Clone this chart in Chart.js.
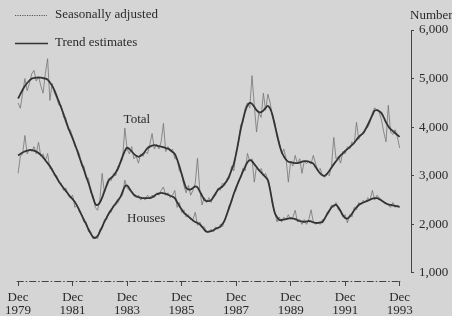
<!DOCTYPE html>
<html>
<head>
<meta charset="utf-8">
<script src="https://cdn.jsdelivr.net/npm/chart.js@4/dist/chart.umd.min.js"></script>
<style>
  html, body { margin: 0; padding: 0; background: #d5d5d5; }
  canvas { display: block; }
</style>
</head>
<body>
<canvas id="c" width="452" height="316"></canvas>
<script>
// Monthly data, Dec 1979 .. Dec 1993 (169 months)
const totalTrend = [
  4590,4680,4770,4850,4910,4960,5000,5010,5020,5020,5020,5010,
  5000,4980,4920,4850,4760,4640,4520,4400,4270,4130,4000,3880,
  3770,3650,3520,3380,3250,3120,2980,2850,2700,2550,2420,2400,
  2450,2550,2680,2800,2910,2960,3000,3070,3150,3270,3400,3510,
  3580,3550,3500,3450,3410,3390,3410,3450,3510,3570,3600,3620,
  3630,3620,3610,3600,3590,3570,3560,3530,3490,3450,3340,3200,
  3040,2880,2750,2720,2720,2750,2780,2760,2680,2590,2510,2480,
  2480,2500,2560,2640,2710,2750,2780,2840,2900,3000,3120,3250,
  3450,3700,3950,4150,4330,4450,4500,4480,4420,4350,4310,4310,
  4340,4400,4440,4380,4250,4050,3850,3650,3500,3400,3330,3290,
  3280,3270,3260,3260,3270,3290,3300,3300,3290,3270,3250,3180,
  3110,3050,3010,3000,3040,3100,3170,3240,3300,3360,3420,3460,
  3510,3550,3590,3630,3680,3740,3800,3840,3880,3960,4050,4150,
  4250,4340,4350,4330,4290,4200,4100,4020,3960,3920,3880,3840,
  3800
];
const totalSA = [
  4500,4390,4700,5000,4750,4900,5100,5170,4950,5050,4850,4700,
  5100,5410,4550,4900,4700,4600,4450,4450,4200,4200,3950,3950,
  3800,3600,3550,3450,3200,3200,2950,2950,2650,2600,2350,2290,
  2500,3050,2650,2850,2950,2900,3050,3000,3200,3250,3350,3980,
  3550,3450,3600,3350,3400,3260,3450,3400,3500,3450,3650,3870,
  3550,3650,3550,3700,4080,3500,3600,3500,3550,3350,3350,3100,
  3050,2800,2650,2800,2600,2700,2850,3360,2700,2400,2550,2450,
  2550,2450,2600,2600,2750,2700,2850,2800,2950,2950,3200,3100,
  3500,3650,4050,4100,4400,4500,4400,5060,4450,3900,4300,4200,
  4700,4350,4680,4500,4200,4100,3800,3700,3450,3550,3350,2870,
  3300,3200,3420,3250,3350,3050,3300,3250,3300,3250,3420,3250,
  3100,3150,3000,2970,3050,3000,3200,3790,3350,3400,3260,3500,
  3450,3600,3550,3700,3650,4100,3750,3850,3900,3950,4000,4100,
  4300,4400,4350,4300,4150,3900,3700,4450,3900,3850,3950,3800,
  3570
];
const housesTrend = [
  3420,3450,3480,3500,3520,3530,3530,3520,3500,3470,3430,3380,
  3320,3260,3200,3120,3040,2960,2880,2810,2750,2690,2630,2570,
  2520,2460,2380,2290,2190,2090,2000,1900,1810,1740,1720,1760,
  1850,1950,2050,2140,2230,2300,2370,2430,2500,2560,2670,2780,
  2800,2740,2670,2610,2580,2560,2550,2540,2540,2540,2540,2560,
  2590,2620,2640,2650,2640,2630,2610,2590,2570,2540,2460,2380,
  2310,2240,2200,2160,2120,2080,2050,2030,2000,1950,1890,1850,
  1850,1860,1880,1910,1930,1950,2010,2090,2220,2350,2490,2630,
  2760,2870,2980,3090,3190,3280,3320,3300,3240,3180,3120,3070,
  3020,2970,2910,2700,2450,2240,2150,2090,2090,2100,2110,2120,
  2130,2120,2110,2090,2070,2060,2050,2060,2070,2060,2040,2030,
  2030,2040,2050,2120,2200,2280,2350,2390,2400,2350,2270,2190,
  2130,2120,2160,2220,2290,2350,2400,2430,2450,2470,2490,2510,
  2530,2540,2540,2520,2490,2460,2430,2410,2400,2390,2380,2370,
  2360
];
const housesSA = [
  3050,3400,3450,3830,3450,3550,3500,3600,3450,3690,3400,3450,
  3300,3460,3150,3150,3000,3000,2850,2850,2700,2750,2600,2540,
  2600,2350,2400,2250,2200,2050,2050,1850,1850,1700,1750,1700,
  1900,1900,2100,2100,2250,2250,2400,2400,2450,2550,2600,2910,
  2750,2700,2650,2600,2550,2600,2500,2550,2500,2600,2550,2600,
  2550,2650,2600,2700,2770,2600,2650,2550,2600,2700,2350,2450,
  2250,2300,2150,2200,2100,2100,2250,1980,2050,1950,1950,1850,
  1830,1900,1850,1950,1900,2000,1950,2100,2200,2400,2450,2650,
  2700,2900,2950,3150,3100,3460,3300,3350,2870,3200,3100,3150,
  3000,3050,2900,2750,2400,2250,2050,2150,2050,2150,2100,2200,
  2100,2150,2290,2050,2100,2000,2100,2000,2100,2300,2050,2000,
  2050,2000,2100,2100,2250,2250,2400,2350,2450,2300,2300,2150,
  2200,2030,2200,2150,2350,2300,2450,2400,2500,2450,2550,2500,
  2700,2500,2600,2550,2500,2450,2450,2400,2350,2450,2350,2400,
  2350
];
const xTickMonths = [0, 24, 48, 72, 96, 120, 144, 168];
const xTickYears  = ['1979','1981','1983','1985','1987','1989','1991','1993'];
const xTickMonthName = 'Dec';
const yTicks = [1000, 2000, 3000, 4000, 5000, 6000];

const ink = '#2a2a2a';
const serif = '"Liberation Serif", "DejaVu Serif", serif';
const pts = arr => arr.map((v, i) => ({ x: i, y: v }));

const deco = {
  id: 'deco',
  afterDraw(chart) {
    const { ctx, chartArea: a, scales: { x, y } } = chart;
    ctx.save();
    ctx.strokeStyle = '#444';
    ctx.lineWidth = 1;
    // right axis line (1,000 .. 6,000)
    ctx.beginPath();
    ctx.moveTo(Math.round(a.right) + 0.5, y.getPixelForValue(yTicks[0]));
    ctx.lineTo(Math.round(a.right) + 0.5, y.getPixelForValue(yTicks[yTicks.length - 1]));
    ctx.stroke();
    // dashed bottom axis
    ctx.setLineDash([7, 2, 1.5, 2]);
    ctx.beginPath();
    ctx.moveTo(x.getPixelForValue(-0.6), Math.round(a.bottom) + 0.5);
    ctx.lineTo(x.getPixelForValue(168.6), Math.round(a.bottom) + 0.5);
    ctx.stroke();
    ctx.setLineDash([]);

    ctx.fillStyle = ink;
    ctx.font = '13px ' + serif;
    ctx.textBaseline = 'middle';
    ctx.textAlign = 'left';
    ctx.fillText('Number', 410, 16);

    // legend
    ctx.strokeStyle = '#555';
    ctx.setLineDash([1.2, 1.2]);
    ctx.lineWidth = 1;
    ctx.beginPath(); ctx.moveTo(15, 15.5); ctx.lineTo(47, 15.5); ctx.stroke();
    ctx.setLineDash([]);
    ctx.strokeStyle = '#333';
    ctx.lineWidth = 1.5;
    ctx.beginPath(); ctx.moveTo(15, 43.5); ctx.lineTo(48, 43.5); ctx.stroke();
    ctx.fillText('Seasonally adjusted', 55, 15);
    ctx.fillText('Trend estimates', 55, 43);

    // series labels
    ctx.textAlign = 'center';
    ctx.fillText('Total', x.getPixelForValue(52.3), y.getPixelForValue(4150));
    ctx.fillText('Houses', x.getPixelForValue(56.4), y.getPixelForValue(2125));
    ctx.restore();
  }
};

new Chart(document.getElementById('c'), {
  type: 'line',
  data: {
    datasets: [
      { label: 'Total trend', data: pts(totalTrend), borderColor: '#333', borderWidth: 1.8, pointRadius: 0, tension: 0.3, order: 1 },
      { label: 'Houses trend', data: pts(housesTrend), borderColor: '#333', borderWidth: 1.8, pointRadius: 0, tension: 0.3, order: 1 },
      { label: 'Total SA', data: pts(totalSA), borderColor: '#757575', borderWidth: 0.8, pointRadius: 0, tension: 0, order: 2 },
      { label: 'Houses SA', data: pts(housesSA), borderColor: '#757575', borderWidth: 0.8, pointRadius: 0, tension: 0, order: 2 }
    ]
  },
  options: {
    responsive: false,
    animation: false,
    devicePixelRatio: 1,
    layout: { padding: { left: 15, top: 30, right: 0, bottom: 0 } },
    plugins: { legend: { display: false }, tooltip: { enabled: false } },
    scales: {
      x: {
        type: 'linear', min: -1, max: 173,
        afterBuildTicks: s => { s.ticks = xTickMonths.map(v => ({ value: v })); },
        afterFit: s => { s.height = 35; },
        ticks: {
          autoSkip: false, maxRotation: 0, padding: 5, color: ink,
          font: { family: serif, size: 13, lineHeight: 1.0 },
          callback: (v) => { const i = xTickMonths.indexOf(v); return i < 0 ? '' : [xTickMonthName, xTickYears[i]]; }
        },
        grid: { drawOnChartArea: false, drawTicks: true, tickLength: 5, color: '#444' },
        border: { display: false }
      },
      y: {
        position: 'right', min: 835, max: 6000,
        afterBuildTicks: s => { s.ticks = yTicks.map(v => ({ value: v })); },
        afterFit: s => { s.width = 41; },
        ticks: {
          padding: 5, color: ink,
          font: { family: serif, size: 13 },
          callback: v => v.toLocaleString('en-US')
        },
        grid: { drawOnChartArea: false, drawTicks: true, tickLength: 3, color: '#444' },
        border: { display: false }
      }
    }
  },
  plugins: [deco]
});
</script>
</body>
</html>
